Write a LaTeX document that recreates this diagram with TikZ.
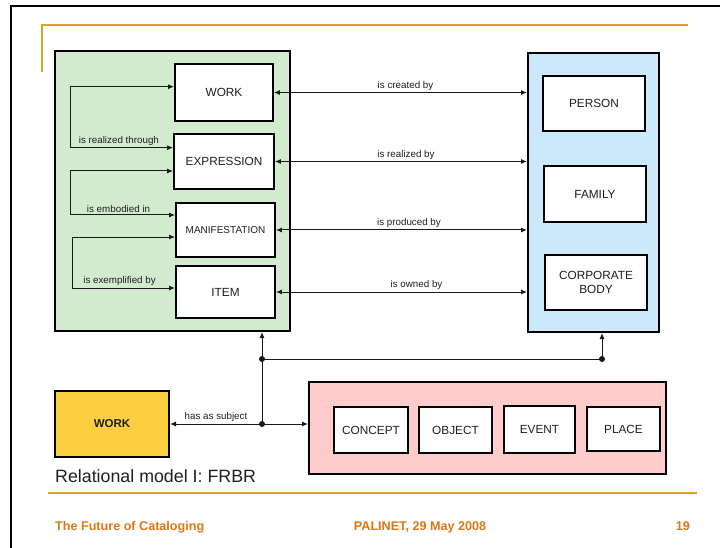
\documentclass[tikz,border=0pt]{standalone}
\usepackage{fontspec}
\setmainfont{Liberation Sans}
\usetikzlibrary{arrows.meta,calc}
\definecolor{greenfill}{RGB}{210,235,207}
\definecolor{bluefill}{RGB}{204,233,252}
\definecolor{pinkfill}{RGB}{255,204,204}
\definecolor{yellowfill}{RGB}{253,206,64}
\definecolor{goldline}{RGB}{214,166,42}
\definecolor{footorange}{RGB}{222,118,20}
\definecolor{linkgray}{RGB}{25,25,25}

\begin{document}
\begin{tikzpicture}[x=1pt,y=-1pt,
  groupbox/.style={draw=black,line width=2pt,inner sep=0pt},
  entity/.style={draw=black,line width=1.8pt,fill=white,inner sep=0pt,align=center,
    text=black!88,font=\fontsize{11.8}{13.5}\selectfont},
  rel/.style={draw=linkgray,line width=1pt,arrows={-}},
  tip/.style={-{Latex[length=6pt,width=5pt]}},
  bitip/.style={{Latex[length=6pt,width=5pt]}-{Latex[length=6pt,width=5pt]}},
  rellabel/.style={font=\fontsize{9.8}{11}\selectfont,text=black!88,inner sep=1.5pt},
  junction/.style={circle,fill=linkgray,inner sep=0pt,minimum size=6pt},
  footer/.style={font=\bfseries\fontsize{12.6}{14}\selectfont,text=footorange,inner sep=0pt}
]
\useasboundingbox (0,0) rectangle (720,548);

% slide frame and rules
\draw[line width=2pt] (11,548) -- (11,6.5) -- (720,6.5);
\draw[goldline,line width=2pt] (41.5,72) -- (41.5,25.5) -- (688,25.5);
\draw[goldline,line width=2pt] (48,493) -- (697,493);

% group 1: work, expression, manifestation, item
\node[groupbox,fill=greenfill,minimum width=235pt,minimum height=280pt] (g1) at (172.5,191) {};
\node[entity,minimum width=98pt,minimum height=57pt] (work) at (224,92.5) {WORK};
\node[entity,minimum width=100pt,minimum height=55pt] (expr) at (224,161.5) {EXPRESSION};
\node[entity,minimum width=99pt,minimum height=54pt,font=\fontsize{10}{12}\selectfont] (manif) at (225.5,230) {MANIFESTATION};
\node[entity,minimum width=99pt,minimum height=52pt] (item) at (225.5,292) {ITEM};

% group 2: person, family, corporate body
\node[groupbox,fill=bluefill,minimum width=131pt,minimum height=279pt] (g2) at (593.5,192.5) {};
\node[entity,minimum width=102pt,minimum height=55pt] (person) at (594,103.5) {PERSON};
\node[entity,minimum width=102pt,minimum height=56pt] (family) at (595,194) {FAMILY};
\node[entity,minimum width=102pt,minimum height=55pt] (corp) at (596,282.5) {CORPORATE\\BODY};

% group 3: subjects
\node[groupbox,fill=pinkfill,minimum width=357pt,minimum height=92pt] (g3) at (487.5,428) {};
\node[entity,minimum width=74pt,minimum height=46pt] (concept) at (371,430) {CONCEPT};
\node[entity,minimum width=73pt,minimum height=46pt] (object) at (455.5,430) {OBJECT};
\node[entity,minimum width=71pt,minimum height=47pt] (event) at (539.5,429.5) {EVENT};
\node[entity,minimum width=73pt,minimum height=44pt] (place) at (623.5,429) {PLACE};

% subject work
\node[groupbox,fill=yellowfill,minimum width=114pt,minimum height=66pt,
  font=\bfseries\fontsize{11.5}{13}\selectfont,text=black!88] (swork) at (112,424) {WORK};

% relationships to group 2
\draw[rel,bitip] (work.east) -- node[rellabel,above,pos=0.52]{is created by} (g2.west |- work.east);
\draw[rel,bitip] (expr.east) -- node[rellabel,above,pos=0.52]{is realized by} (g2.west |- expr.east);
\draw[rel,bitip] (manif.east) -- node[rellabel,above,pos=0.53]{is produced by} (g2.west |- manif.east);
\draw[rel,bitip] (item.east) -- node[rellabel,above,pos=0.56]{is owned by} (g2.west |- item.east);

% relationships inside group 1
\coordinate (a1) at (70.7,86.7);  \coordinate (b1) at (70.7,147.7);
\coordinate (a2) at (70,171);     \coordinate (b2) at (70,215);
\coordinate (a3) at (72,237);     \coordinate (b3) at (72,288);
\draw[rel,bitip] (work.west |- a1) -- (a1) -- (b1)
  -- node[rellabel,above,xshift=-3pt]{is realized through} (expr.west |- b1);
\draw[rel,bitip] (expr.west |- a2) -- (a2) -- (b2)
  -- node[rellabel,above,xshift=-4pt]{is embodied in} (manif.west |- b2);
\draw[rel,bitip] (manif.west |- a3) -- (a3) -- (b3)
  -- node[rellabel,above,xshift=-4pt]{is exemplified by} (item.west |- b3);

% subject links
\coordinate (j1) at (262,359);
\coordinate (j2) at (602,359);
\coordinate (j3) at (262,424);
\draw[rel,tip] (j1) -- (g1.south -| j1);
\draw[rel] (j1) -- (j2);
\draw[rel,tip] (j2) -- (g2.south -| j2);
\draw[rel] (j1) -- (j3);
\draw[rel,tip] (j3) -- node[rellabel,above,pos=0.5]{has as subject} (swork.east);
\draw[rel,tip] (j3) -- (g3.west |- j3);
\node[junction] at (j1) {};
\node[junction] at (j2) {};
\node[junction] at (j3) {};

% caption
\node[anchor=base west,inner sep=0pt,font=\fontsize{17.8}{20}\selectfont,text=black!88] (caption) at (55,482.7) {Relational model I: FRBR};

% footer
\node[footer,anchor=base west] (f1) at (55,530) {The Future of Cataloging};
\node[footer,anchor=base] (f2) at (420,530) {PALINET, 29 May 2008};
\node[footer,anchor=base east] (f3) at (690,530) {19};
\end{tikzpicture}
\end{document}
